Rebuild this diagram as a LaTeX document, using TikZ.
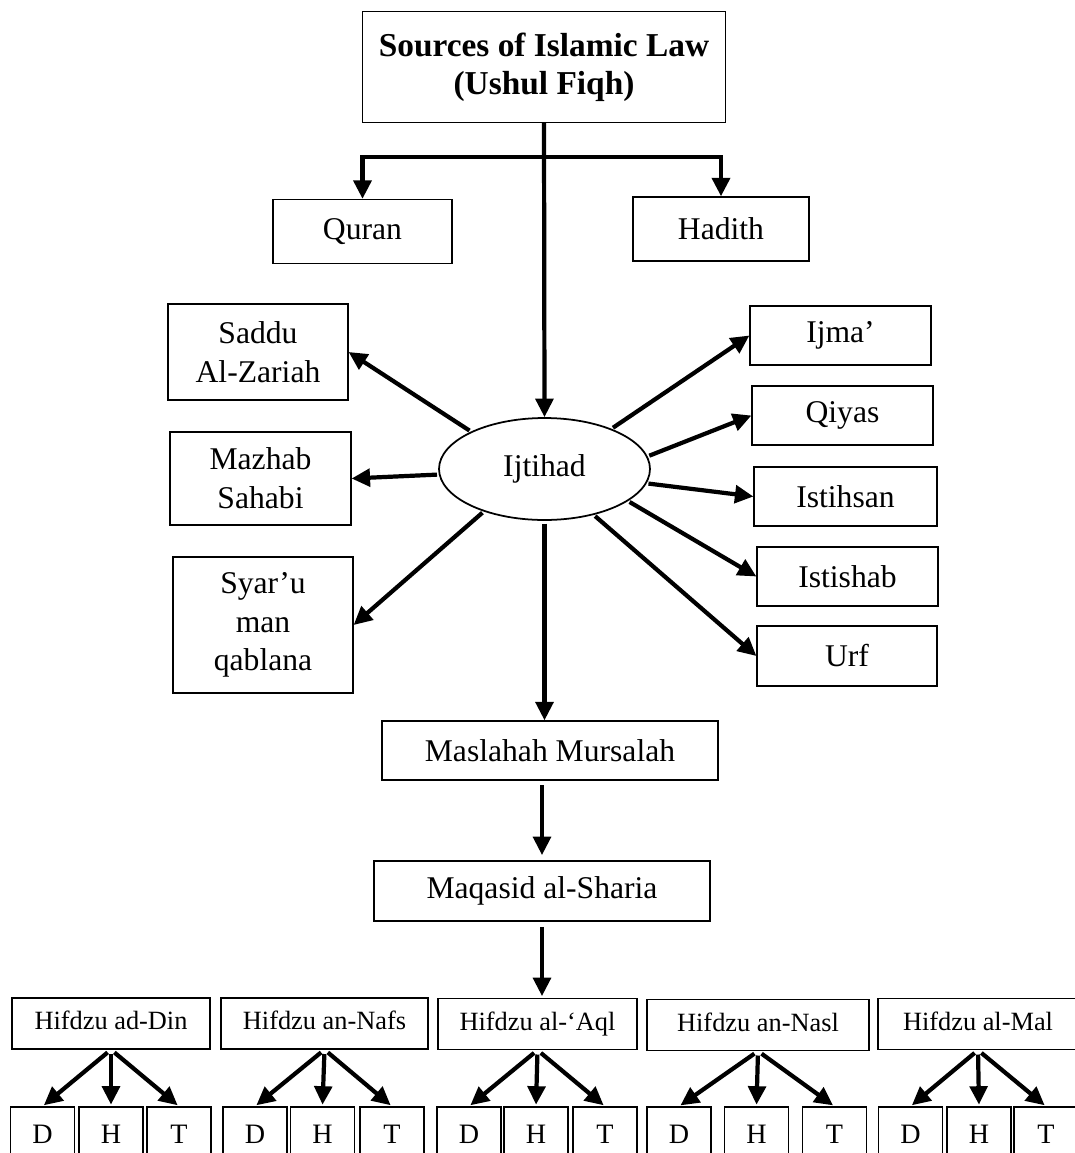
\documentclass[tikz,border=0pt]{standalone}
\usepackage{fontspec}
\setmainfont{Liberation Serif}
\usetikzlibrary{arrows.meta, shapes.geometric, positioning}

\begin{document}
\begin{tikzpicture}[x=0.02cm, y=-0.02cm,
    box/.style={draw, line width=0.7pt, inner sep=0pt, align=center, font=\fontsize{18}{22}\selectfont},
    hifbox/.style={box, minimum height=1.02cm, text height=0.69em, text depth=0em, font=\fontsize{15}{18}\selectfont},
    letterbox/.style={box, minimum width=1.28cm, minimum height=1.08cm, font=\fontsize{16}{18}\selectfont},
    arr/.style={line width=2.4pt, -{Triangle[length=10.5pt, width=10pt]}},
]
    \useasboundingbox (0,0) rectangle (1075,1153);

    % Title
    \node[box, minimum width=7.26cm, minimum height=2.22cm, font=\fontsize{19}{21.5}\selectfont\bfseries] (src) at (544,67) {Sources of Islamic Law\\(Ushul Fiqh)};
    \coordinate (fork) at (544,157);

    \node[box, minimum width=3.58cm, minimum height=1.28cm] (quran) at (362.5,231.5) {Quran};
    \node[box, minimum width=3.52cm, minimum height=1.28cm] (hadith) at (721,229) {Hadith};

    % Ijtihad
    \node[ellipse, draw, line width=1pt, inner sep=0pt, minimum width=4.22cm, minimum height=2.04cm, font=\fontsize{18}{22}\selectfont] (ij) at (544.5,469) {Ijtihad};

    % Left side
    \node[box, minimum width=3.6cm, minimum height=1.92cm] (saddu) at (258,352) {Saddu\\Al-Zariah};
    \node[box, minimum width=3.62cm, minimum height=1.86cm] (mazhab) at (260.5,478.5) {Mazhab\\Sahabi};
    \node[box, minimum width=3.6cm, minimum height=2.72cm] (syar) at (263,625) {Syar’u\\man\\qablana};

    % Right side
    \node[box, minimum width=3.62cm, minimum height=1.18cm] (ijma) at (840.5,335.5) {Ijma’};
    \node[box, minimum width=3.62cm, minimum height=1.18cm] (qiyas) at (842.5,415.5) {Qiyas};
    \node[box, minimum width=3.66cm, minimum height=1.18cm] (istihsan) at (845.5,496.5) {Istihsan};
    \node[box, minimum width=3.62cm, minimum height=1.18cm] (istishab) at (847.5,576.5) {Istishab};
    \node[box, minimum width=3.6cm, minimum height=1.2cm] (urf) at (847,656) {Urf};

    % Middle column
    \node[box, minimum width=6.72cm, minimum height=1.18cm] (mas) at (550,750.5) {Maslahah Mursalah};
    \node[box, minimum width=6.72cm, minimum height=1.2cm] (maq) at (542,891) {Maqasid al-Sharia};

    % Hifdzu row
    \node[hifbox, minimum width=3.96cm] (din) at (111,1023.5) {Hifdzu ad-Din};
    \node[hifbox, minimum width=4.14cm] (nafs) at (324.5,1023.5) {Hifdzu an-Nafs};
    \node[hifbox, minimum width=3.98cm] (aql) at (537.5,1024) {Hifdzu al-‘Aql};
    \node[hifbox, minimum width=4.44cm] (nasl) at (758,1025) {Hifdzu an-Nasl};
    \node[hifbox, minimum width=4.0cm] (mal) at (978,1024) {Hifdzu al-Mal};

    % D H T
    \node[letterbox] (din-d) at (42.5,1134) {D};
    \node[letterbox] (din-h) at (111,1134) {H};
    \node[letterbox] (din-t) at (179,1134) {T};
    \node[letterbox] (nafs-d) at (255,1134) {D};
    \node[letterbox] (nafs-h) at (322.5,1134) {H};
    \node[letterbox] (nafs-t) at (392,1134) {T};
    \node[letterbox] (aql-d) at (469,1134) {D};
    \node[letterbox] (aql-h) at (536,1134) {H};
    \node[letterbox] (aql-t) at (605,1134) {T};
    \node[letterbox] (nasl-d) at (679,1134) {D};
    \node[letterbox] (nasl-h) at (756.5,1134) {H};
    \node[letterbox] (nasl-t) at (834.5,1134) {T};
    \node[letterbox] (mal-d) at (910.5,1134) {D};
    \node[letterbox] (mal-h) at (979,1134) {H};
    \node[letterbox] (mal-t) at (1046,1134) {T};

    % Top arrows
    \draw[arr] (src.south) -- (ij.north);
    \draw[arr, line width=2.6pt] (fork) -| (quran.north);
    \draw[arr, line width=2.6pt] (fork) -| (hadith.north);

    % Ijtihad arrows
    \draw[arr, shorten <=1pt] (ij.153) -- (saddu.east);
    \draw[arr, shorten <=1pt] (ij.183) -- (mazhab.east);
    \draw[arr, shorten <=1pt] (ij.215) -- (syar.east);
    \draw[arr, shorten <=1pt] (ij.31) -- (ijma.west);
    \draw[arr, shorten <=1pt] (ij.7) -- (qiyas.west);
    \draw[arr, shorten <=1pt] (ij.-8) -- (istihsan.west);
    \draw[arr, shorten <=1pt] (ij.-21) -- (istishab.west);
    \draw[arr, shorten <=1pt] (ij.-43) -- (urf.west);

    % Middle arrows
    \draw[arr, shorten <=1.5pt] (ij.south) -- (ij.south |- mas.north);
    \draw[arr, shorten <=2.5pt, shorten >=3pt] (maq.north |- mas.south) -- (maq.north);
    \draw[arr, shorten <=3pt, shorten >=1pt] (maq.south) -- (maq.south |- aql.north);

    % Hifdzu arrows
    \draw[arr, shorten <=2.5pt, shorten >=1pt] (din.south) -- (din-d.north);
    \draw[arr, shorten <=2.5pt, shorten >=1pt] (din.south) -- (din-h.north);
    \draw[arr, shorten <=2.5pt, shorten >=1pt] (din.south) -- (din-t.north);
    \draw[arr, shorten <=2.5pt, shorten >=1pt] (nafs.south) -- (nafs-d.north);
    \draw[arr, shorten <=2.5pt, shorten >=1pt] (nafs.south) -- (nafs-h.north);
    \draw[arr, shorten <=2.5pt, shorten >=1pt] (nafs.south) -- (nafs-t.north);
    \draw[arr, shorten <=2.5pt, shorten >=1pt] (aql.south) -- (aql-d.north);
    \draw[arr, shorten <=2.5pt, shorten >=1pt] (aql.south) -- (aql-h.north);
    \draw[arr, shorten <=2.5pt, shorten >=1pt] (aql.south) -- (aql-t.north);
    \draw[arr, shorten <=2.5pt, shorten >=1pt] (nasl.south) -- (nasl-d.north);
    \draw[arr, shorten <=2.5pt, shorten >=1pt] (nasl.south) -- (nasl-h.north);
    \draw[arr, shorten <=2.5pt, shorten >=1pt] (nasl.south) -- (nasl-t.north);
    \draw[arr, shorten <=2.5pt, shorten >=1pt] (mal.south) -- (mal-d.north);
    \draw[arr, shorten <=2.5pt, shorten >=1pt] (mal.south) -- (mal-h.north);
    \draw[arr, shorten <=2.5pt, shorten >=1pt] (mal.south) -- (mal-t.north);
\end{tikzpicture}
\end{document}
